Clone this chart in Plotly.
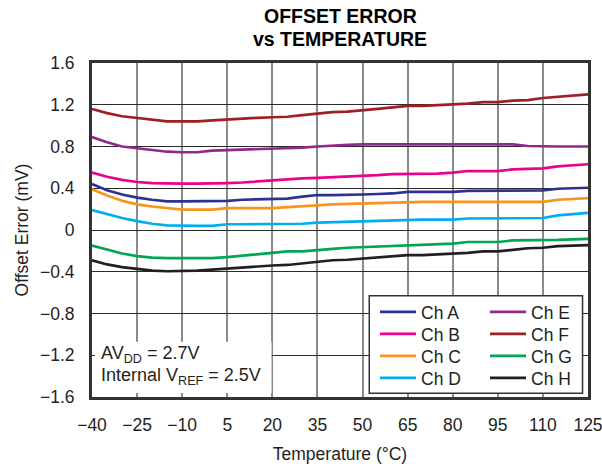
import plotly.graph_objects as go

temps = [-40, -35, -30, -25, -20, -15, -10, -5, 0, 5, 10, 15, 20, 25, 30, 35, 40, 45,
         50, 55, 60, 65, 70, 75, 80, 85, 90, 95, 100, 105, 110, 115, 120, 125]

ch_a = [0.44, 0.38, 0.34, 0.31, 0.29, 0.275, 0.275, 0.275, 0.275, 0.28, 0.29, 0.295, 0.30, 0.30,
        0.32, 0.335, 0.335, 0.335, 0.34, 0.345, 0.35, 0.365, 0.365, 0.365, 0.365, 0.375, 0.375,
        0.375, 0.375, 0.375, 0.38, 0.395, 0.40, 0.405]
ch_b = [0.55, 0.51, 0.48, 0.46, 0.45, 0.445, 0.445, 0.445, 0.445, 0.45, 0.455, 0.465, 0.475, 0.49,
        0.495, 0.50, 0.505, 0.515, 0.52, 0.525, 0.535, 0.535, 0.535, 0.54, 0.55, 0.565, 0.565,
        0.565, 0.58, 0.585, 0.59, 0.61, 0.62, 0.63]
ch_c = [0.39, 0.33, 0.28, 0.245, 0.225, 0.21, 0.195, 0.195, 0.195, 0.21, 0.21, 0.21, 0.21, 0.22,
        0.23, 0.24, 0.245, 0.25, 0.255, 0.255, 0.26, 0.27, 0.27, 0.27, 0.27, 0.27, 0.27, 0.27,
        0.27, 0.27, 0.27, 0.29, 0.295, 0.305]
ch_d = [0.19, 0.15, 0.115, 0.085, 0.06, 0.045, 0.04, 0.04, 0.04, 0.055, 0.055, 0.055, 0.055, 0.055,
        0.06, 0.07, 0.075, 0.08, 0.085, 0.085, 0.09, 0.10, 0.10, 0.10, 0.10, 0.11, 0.11, 0.11,
        0.11, 0.11, 0.115, 0.14, 0.155, 0.165]
ch_e = [0.89, 0.84, 0.80, 0.785, 0.77, 0.75, 0.745, 0.745, 0.76, 0.765, 0.77, 0.775, 0.775, 0.78,
        0.79, 0.80, 0.81, 0.815, 0.82, 0.82, 0.82, 0.82, 0.82, 0.82, 0.82, 0.82, 0.82, 0.82,
        0.82, 0.805, 0.80, 0.80, 0.80, 0.80]
ch_f = [1.16, 1.12, 1.09, 1.075, 1.06, 1.04, 1.04, 1.04, 1.05, 1.06, 1.065, 1.075, 1.08, 1.085,
        1.10, 1.115, 1.13, 1.135, 1.145, 1.16, 1.175, 1.19, 1.19, 1.195, 1.205, 1.21, 1.225,
        1.225, 1.24, 1.245, 1.265, 1.275, 1.285, 1.30]
ch_g = [-0.15, -0.19, -0.225, -0.25, -0.265, -0.27, -0.27, -0.27, -0.27, -0.26, -0.245, -0.23,
        -0.215, -0.205, -0.205, -0.19, -0.18, -0.17, -0.165, -0.16, -0.15, -0.145, -0.145, -0.14,
        -0.13, -0.115, -0.115, -0.115, -0.10, -0.10, -0.10, -0.095, -0.09, -0.085]
ch_h = [-0.29, -0.33, -0.355, -0.375, -0.39, -0.395, -0.395, -0.39, -0.38, -0.37, -0.355, -0.345,
        -0.34, -0.335, -0.32, -0.305, -0.29, -0.285, -0.275, -0.265, -0.255, -0.24, -0.24, -0.235,
        -0.225, -0.22, -0.205, -0.205, -0.19, -0.175, -0.17, -0.155, -0.15, -0.145]

series_names = ["Ch A", "Ch B", "Ch C", "Ch D", "Ch E", "Ch F", "Ch G", "Ch H"]
series_values = [ch_a, ch_b, ch_c, ch_d, ch_e, ch_f, ch_g, ch_h]
series_colors = ["#2E3192", "#EC008C", "#F7941D", "#00AEEF",
                 "#92278F", "#9E1F24", "#00A651", "#231F20"]
# legend rows: (A,E), (B,F), (C,G), (D,H)
legend_ids = ["legend", "legend2", "legend3", "legend4",
              "legend", "legend2", "legend3", "legend4"]

x_ticks = [-40, -25, -10, 5, 20, 35, 50, 65, 80, 95, 110, 125]
y_ticks = [-1.6, -1.2, -0.8, -0.4, 0, 0.4, 0.8, 1.2, 1.6]


def fmt(v):
    s = f"{abs(v):g}"
    return ("\u2212" + s) if v < 0 else s


FONT = "Liberation Sans, Arial, Helvetica, sans-serif"
TXT = "#231F20"

fig = go.Figure()
for name, vals, col, lg in zip(series_names, series_values, series_colors, legend_ids):
    fig.add_trace(go.Scatter(
        x=temps, y=vals, mode="lines", name=name,
        line=dict(color=col, width=2.7), legend=lg,
    ))

legend_rows_y = [0.2545, 0.1886, 0.1228, 0.0569]
legend_common = dict(x=0.5706, xanchor="left", yanchor="middle", orientation="h",
                     bgcolor="rgba(0,0,0,0)", borderwidth=0, font=dict(size=17.5, color=TXT),
                     traceorder="normal", itemwidth=36, entrywidthmode="pixels", entrywidth=59)

fig.update_layout(
    width=602, height=464,
    margin=dict(l=92, r=14, t=63, b=67, autoexpand=False),
    paper_bgcolor="white", plot_bgcolor="white",
    font=dict(family=FONT, size=17.5, color=TXT),
    xaxis=dict(range=[-40, 125], tickvals=x_ticks, ticktext=[fmt(v) for v in x_ticks],
               showgrid=True, gridcolor="#8a8a8a", gridwidth=2, automargin=False,
               showline=True, linecolor="#333333", linewidth=3, mirror=True,
               ticks="", zeroline=False, ticklabelstandoff=10, ticklabeloverflow="allow",
               title=dict(text="Temperature (\u00B0C)", standoff=14, font=dict(size=17.5)),
               tickfont=dict(size=17.5)),
    yaxis=dict(range=[-1.6, 1.6], tickvals=y_ticks, ticktext=[fmt(v) for v in y_ticks],
               showgrid=True, gridcolor="#2a2a2a", gridwidth=1.2, automargin=False,
               showline=True, linecolor="#333333", linewidth=3, mirror=True,
               ticks="", zeroline=False, ticklabelstandoff=11, ticklabeloverflow="allow",
               title=dict(text="Offset Error (mV)", standoff=7, font=dict(size=17.5)),
               tickfont=dict(size=17.5)),
    legend=dict(y=legend_rows_y[0], **legend_common),
    legend2=dict(y=legend_rows_y[1], **legend_common),
    legend3=dict(y=legend_rows_y[2], **legend_common),
    legend4=dict(y=legend_rows_y[3], **legend_common),
    showlegend=True,
)

# white box behind condition text
fig.add_shape(type="rect", xref="paper", yref="paper", x0=0.006, x1=0.362, y0=0.012, y1=0.1656,
              fillcolor="white", line=dict(width=0), layer="above")
# legend box
fig.add_shape(type="rect", xref="paper", yref="paper", x0=0.559, x1=0.989, y0=0.011, y1=0.3033,
              fillcolor="white", line=dict(color="#333333", width=1.5), layer="above")

fig.add_annotation(text="<b>OFFSET ERROR</b>", xref="paper", yref="paper", x=0.5, y=1.1407,
                   xanchor="center", yanchor="middle", showarrow=False,
                   font=dict(size=19.5, color="#000000"))
fig.add_annotation(text="<b>vs TEMPERATURE</b>", xref="paper", yref="paper", x=0.5, y=1.0728,
                   xanchor="center", yanchor="middle", showarrow=False,
                   font=dict(size=19.5, color="#000000"))

fig.add_annotation(text="AV<sub>DD</sub> = 2.7V", xref="paper", yref="paper",
                   x=0.014, y=0.1287, xanchor="left", yanchor="middle", showarrow=False,
                   font=dict(size=18, color=TXT))
fig.add_annotation(text="Internal V<sub>REF</sub> = 2.5V", xref="paper", yref="paper",
                   x=0.014, y=0.0599, xanchor="left", yanchor="middle", showarrow=False,
                   font=dict(size=18, color=TXT))

fig.write_html("out.html", config={"displayModeBar": False},
               post_script="document.body.style.margin='0';")
